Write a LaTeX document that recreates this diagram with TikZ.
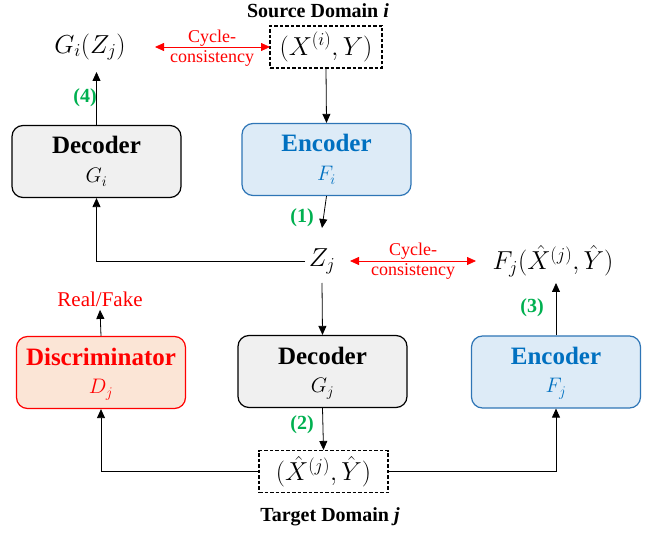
\documentclass[tikz,border=0pt]{standalone}
\usepackage{fix-cm}
\usepackage{fontspec}
\setmainfont{Liberation Serif}
\usetikzlibrary{arrows.meta}
\definecolor{boxgray}{HTML}{F0F0F0}
\definecolor{boxblue}{HTML}{DDEBF7}
\definecolor{lineblue}{HTML}{2E75B6}
\definecolor{textblue}{HTML}{0070C0}
\definecolor{boxred}{HTML}{FBE5D6}
\definecolor{lgreen}{HTML}{00B050}
\begin{document}
\begin{tikzpicture}[x=1pt,y=-1pt,
  box/.style={rounded corners=11pt, line width=1.2pt, minimum width=169pt, minimum height=72pt, align=center, inner sep=0pt},
  decbox/.style={box, draw=black, fill=boxgray},
  encbox/.style={box, draw=lineblue, fill=boxblue, text=textblue},
  disbox/.style={box, draw=red, fill=boxred, text=red},
  title/.style={font=\fontsize{25}{30}\selectfont\bfseries},
  sub/.style={font=\fontsize{21}{24}\selectfont},
  mth/.style={font=\fontsize{26}{30}\selectfont, inner sep=0pt},
  dbox/.style={draw, dash pattern=on 3.5pt off 2pt, line width=1.1pt, minimum width=112pt, minimum height=42pt, inner sep=0pt, font=\fontsize{26}{30}\selectfont},
  num/.style={text=lgreen, font=\fontsize{20}{24}\selectfont\bfseries},
  cyc/.style={text=red, align=center, font=\fontsize{18}{18}\selectfont},
  arr/.style={-{Triangle[length=9pt,width=8pt]}, line width=0.8pt},
  carr/.style={{Triangle[length=9pt,width=8pt]}-{Triangle[length=9pt,width=8pt]}, line width=0.8pt, red},
  lbl/.style={font=\fontsize{20}{24}\selectfont\bfseries}
]
\useasboundingbox (0,0) rectangle (656,534);

% top row
\node[mth] (gz) at (90,47) {$G_i(Z_j)$};
\node[dbox] (xs) at (326,47) {$(X^{(i)},Y)$};
\node[lbl] (src) at (318,11) {Source Domain \textit{i}};

\node[decbox] (deci) at (96.5,161.5) {};
\node[title, anchor=base] at (96.5,154) {Decoder};
\node[sub, anchor=base] at (96.5,183) {$G_i$};

\node[encbox] (enci) at (326.5,159.5) {};
\node[title, anchor=base, text=textblue] at (326.5,152) {Encoder};
\node[sub, anchor=base, text=textblue] at (326.5,181) {$F_i$};

% middle row
\node[mth] (zj) at (322,261) {$Z_j$};
\node[mth] (fj) at (553,261) {$F_j(\hat{X}^{(j)},\hat{Y})$};

% bottom row
\node[disbox] (dis) at (101,372.5) {};
\node[title, anchor=base, text=red] at (101,366) {Discriminator};
\node[sub, anchor=base, text=red] at (101,394) {$D_j$};

\node[decbox] (decj) at (322.5,371.5) {};
\node[title, anchor=base] at (322.5,365) {Decoder};
\node[sub, anchor=base] at (322.5,393) {$G_j$};

\node[encbox] (encj) at (556,372) {};
\node[title, anchor=base, text=textblue] at (556,365) {Encoder};
\node[sub, anchor=base, text=textblue] at (556,393) {$F_j$};

\node[dbox, minimum width=129pt] (xt) at (323.5,471.5) {$(\hat{X}^{(j)},\hat{Y})$};
\node[lbl] (tgt) at (330,517) {Target Domain \textit{j}};

\node[cyc, text=red, font=\fontsize{21}{24}\selectfont] (rf) at (100,299) {Real/Fake};

% numbers
\node[num] at (85,98) {(4)};
\node[num] at (302,218) {(1)};
\node[num] at (302,425) {(2)};
\node[num] at (532,308) {(3)};

% cycle consistency
\coordinate (c1a) at (155,47);
\coordinate (c1b) at (270,47);
\draw[carr] (c1a) -- (c1b);
\node[cyc] at (212,48) {Cycle-\\[2pt]consistency};
\coordinate (c2a) at (350,261);
\coordinate (c2b) at (476,261);
\draw[carr] (c2a) -- (c2b);
\node[cyc] at (413,261) {Cycle-\\[2pt]consistency};

% arrows
\draw[arr] (xs.south) -- (enci.north);
\draw[arr] (enci.south) -- (322,228);
\draw[arr] (deci.north) -- (96.5,72);
\draw[arr] (305,261) -| (deci.south);
\draw[arr] (322,283) -- (decj.north);
\draw[arr] (decj.south) -- (xt.north);
\draw[arr] (xt.west) -| (dis.south);
\draw[arr] (xt.east) -| (encj.south);
\draw[arr] (encj.north) -- (556,283);
\draw[arr] (dis.north) -- (rf.south);
\end{tikzpicture}
\end{document}
